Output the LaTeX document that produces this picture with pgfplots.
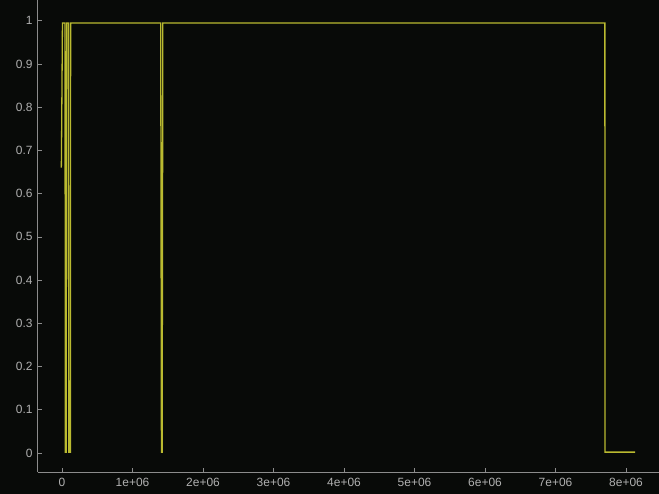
\documentclass[border=0pt]{standalone}
\usepackage{fontspec}
\setmainfont{Liberation Sans}
\usepackage{pgfplots}
\pgfplotsset{compat=1.18}
\definecolor{bgc}{RGB}{8,10,8}
\definecolor{linec}{RGB}{186,186,48}
\definecolor{axc}{RGB}{140,140,140}
\definecolor{txtc}{RGB}{176,176,176}
\begin{document}
\begin{tikzpicture}
\useasboundingbox (0,0) rectangle (659bp,494bp);
\fill[bgc] (0,0) rectangle (659bp,494bp);
\begin{axis}[
  at={(37.5bp,22bp)}, anchor=south west,
  scale only axis, width=621.5bp, height=472bp,
  xmin=-348000, xmax=8468000, ymin=-0.044, ymax=1.048,
  axis x line=bottom, axis y line=left,
  axis line style={-, draw=axc, line width=0.9bp},
  tick align=inside, major tick length=4.5bp,
  tick style={draw=axc, line width=0.6bp},
  xtick={0,1000000,2000000,3000000,4000000,5000000,6000000,7000000,8000000},
  xticklabels={0,1e+06,2e+06,3e+06,4e+06,5e+06,6e+06,7e+06,8e+06},
  ytick={0,0.1,0.2,0.3,0.4,0.5,0.6,0.7,0.8,0.9,1},
  yticklabels={0,0.1,0.2,0.3,0.4,0.5,0.6,0.7,0.8,0.9,1},
  scaled x ticks=false,
  ticklabel style={font=\fontsize{12}{14}\selectfont, text=txtc},
  xticklabel style={yshift=-2.5bp},
  yticklabel style={xshift=-1.5bp},
  clip=false,
]
\addplot[linec, line width=1.3bp] coordinates {
(-10000,0.66) (-8000,0.69) (6000,0.995) (43000,0.995) (46000,0.002) (58000,0.002) (66000,0.995)
(92000,0.995) (95000,0.002) (118000,0.002) (122000,0.995)
(1400000,0.995) (1410000,0.002) (1420000,0.002) (1430000,0.995)
(7700000,0.995) (7702000,0.002) (8130000,0.002)
};
\end{axis}
\end{tikzpicture}
\end{document}
